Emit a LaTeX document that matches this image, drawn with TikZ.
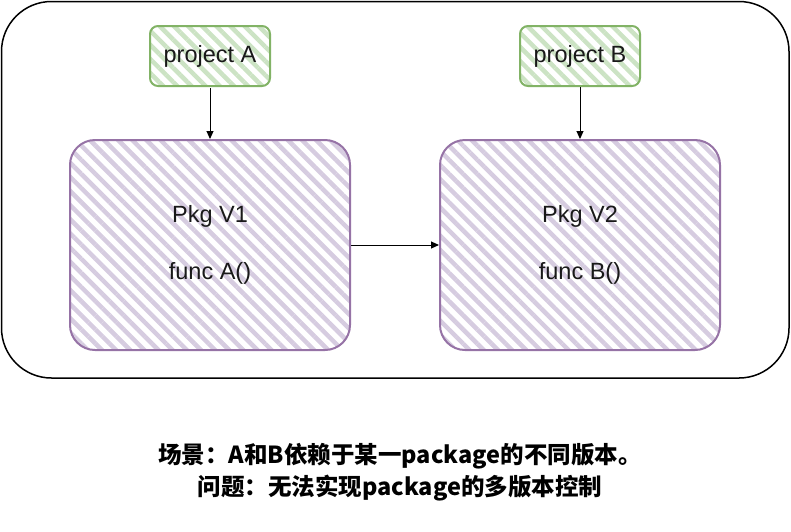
\documentclass[tikz,border=0pt]{standalone}
\usepackage{fontspec}
\setmainfont{Liberation Sans}
\newfontfamily\cjk{Noto Sans CJK SC}
\usetikzlibrary{patterns.meta,arrows.meta}
\definecolor{gstroke}{HTML}{82B366}
\definecolor{ghatch}{HTML}{CCE3C4}
\definecolor{pstroke}{HTML}{9673A6}
\definecolor{phatch}{HTML}{D6CCE0}
\tikzset{
  proj/.style={draw=gstroke, line width=2pt, rounded corners=8pt,
    pattern={Lines[angle=-45,distance=10pt,line width=4.5pt]}, pattern color=ghatch,
    minimum width=120pt, minimum height=60pt, font=\fontsize{23.5}{28}\selectfont, text=black!90},
  pkg/.style={draw=pstroke, line width=2pt, rounded corners=25pt,
    pattern={Lines[angle=-45,distance=10pt,line width=4.5pt]}, pattern color=phatch,
    minimum width=280pt, minimum height=210pt},
  lbl/.style={font=\fontsize{23.5}{28}\selectfont, text=black!90},
  conn/.style={-{Triangle[length=8pt,width=7pt]}, line width=1pt, black}
}
\begin{document}
\begin{tikzpicture}[x=1pt,y=-1pt]
\useasboundingbox (0,0) rectangle (791,531);
\draw[line width=1.5pt, rounded corners=50pt] (1.5,1.5) rectangle (789,378);
\node[proj] (pa) at (210,56) {project A};
\node[proj] (pb) at (580,56) {project B};
\node[pkg] (v1) at (210,245) {};
\node[pkg] (v2) at (580,245) {};
\node[lbl] (v1a) at (210,216) {Pkg V1};
\node[lbl] (v1b) at (210,273) {func A()};
\node[lbl] (v2a) at (580,216) {Pkg V2};
\node[lbl] (v2b) at (580,273) {func B()};
\draw[conn] (pa) -- (v1);
\draw[conn] (pb) -- (v2);
\draw[conn] (v1) -- (v2);
\node[font=\cjk\bfseries\fontsize{23.5}{32}\selectfont, align=center] (cap) at (400,472)
  {场景：A和B依赖于某一package的不同版本。\\问题：无法实现package的多版本控制};
\end{tikzpicture}
\end{document}
